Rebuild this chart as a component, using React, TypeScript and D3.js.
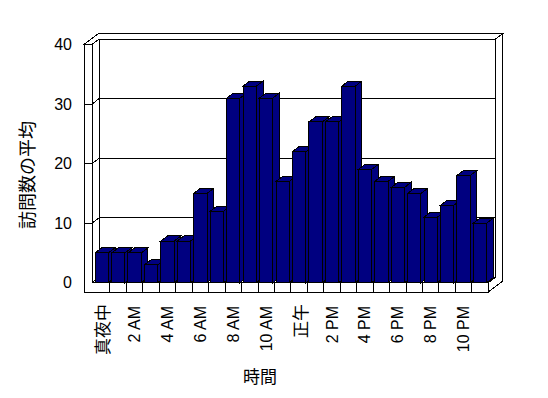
import React from "react";
import * as d3 from "d3";

const hours = [
  "真夜中", "1 AM", "2 AM", "3 AM", "4 AM", "5 AM", "6 AM", "7 AM", "8 AM", "9 AM", "10 AM", "11 AM",
  "正午", "1 PM", "2 PM", "3 PM", "4 PM", "5 PM", "6 PM", "7 PM", "8 PM", "9 PM", "10 PM", "11 PM",
];
const visits = [5, 5, 5, 3, 7, 7, 15, 12, 31, 33, 31, 17, 22, 27, 27, 33, 19, 17, 16, 15, 11, 13, 18, 10];
const yTicks = [0, 10, 20, 30, 40];
const xTickLabels = ["真夜中", "2 AM", "4 AM", "6 AM", "8 AM", "10 AM", "正午", "2 PM", "4 PM", "6 PM", "8 PM", "10 PM"];
const yTitle = "訪問数の平均";
const xTitle = "時間";

const W = 548;
const H = 398;
const DX = 7;
const DY = -5.3;
const BAR_Z = 0.95;
const xL = 84;
const xI = 92;
const xStart = 93.5;
const xR = 488.3;
const yF = 292;
const NAVY = "#000080";
const FONT = "'Liberation Sans', Arial, 'Noto Sans CJK JP', sans-serif";
const CJK = "'Noto Sans CJK JP', sans-serif";

const P = (x: number, y: number, z: number): [number, number] => [x + z * DX, y + z * DY];
const pts = (arr: [number, number][]) => arr.map((p) => p.join(",")).join(" ");

export default function App() {
  const x = d3
    .scaleBand<number>()
    .domain(d3.range(hours.length))
    .range([xStart, xR])
    .paddingInner(0.19)
    .paddingOuter(0.095);
  const y = d3.scaleLinear().domain([0, 40]).range([282.7, 44.5]);
  const yT = y(40);
  const yB = y(0);
  const step = x.step();
  const bw = x.bandwidth();
  const grid = yTicks.filter((v) => v > 0 && v < 40);
  const boundaries = d3.range(1, hours.length).map((k) => xStart + k * step);

  const common = { stroke: "#000", strokeWidth: 1, shapeRendering: "crispEdges" as const };

  return (
    <svg width={W} height={H} style={{ position: "absolute", left: 0, top: 0, background: "#fff" }}>
      <rect x={0} y={0} width={W} height={H} fill="#fff" />
      {/* back wall */}
      <polygon points={pts([P(xI, yT, 1), P(xR, yT, 1), P(xR, yB, 1), P(xI, yB, 1)])} fill="#fff" {...common} />
      {grid.map((v) => {
        const a = P(xI, y(v), 1);
        const b = P(xR, y(v), 1);
        return <line key={"bg" + v} x1={a[0]} y1={a[1]} x2={b[0]} y2={b[1]} {...common} />;
      })}
      {/* left wall inner face */}
      <polygon points={pts([P(xI, yT, 0), P(xI, yT, 1), P(xI, yB, 1), P(xI, yB, 0)])} fill="#fff" {...common} />
      {grid.map((v) => {
        const a = P(xI, y(v), 0);
        const b = P(xI, y(v), 1);
        return <line key={"lg" + v} x1={a[0]} y1={a[1]} x2={b[0]} y2={b[1]} {...common} />;
      })}
      {/* top of walls */}
      <polygon
        points={pts([P(xL, yT, 0), P(xL, yT, 2), P(xR, yT, 2), P(xR, yT, 1), P(xI, yT, 1), P(xI, yT, 0)])}
        fill="#fff"
        {...common}
      />
      {/* right side */}
      <polygon
        points={pts([P(xR, yT, 1), P(xR, yT, 2), P(xR, yF, 2), P(xR, yF, 0), P(xR, yB, 0), P(xR, yB, 1)])}
        fill="#fff"
        {...common}
      />
      {/* floor top */}
      <polygon points={pts([P(xI, yB, 0), P(xR, yB, 0), P(xR, yB, 1), P(xI, yB, 1)])} fill="#fff" {...common} />
      {/* left wall front + floor front */}
      <polygon
        points={pts([[xL, yT], [xI, yT], [xI, yB], [xR, yB], [xR, yF], [xL, yF]])}
        fill="#fff"
        {...common}
      />
      {grid.map((v) => (
        <line key={"ft" + v} x1={xL} y1={y(v)} x2={xI} y2={y(v)} {...common} />
      ))}
      {boundaries.map((bx, i) => (
        <line key={"cb" + i} x1={bx} y1={yB} x2={bx} y2={yF} {...common} />
      ))}
      {/* bars */}
      {visits.map((v, i) => {
        const x0 = x(i)!;
        const x1 = x0 + bw;
        const yt = y(v);
        const front: [number, number][] = [[x0, yt], [x1, yt], [x1, yB], [x0, yB]];
        const top = [P(x0, yt, 0), P(x1, yt, 0), P(x1, yt, BAR_Z), P(x0, yt, BAR_Z)];
        const side = [P(x1, yt, 0), P(x1, yt, BAR_Z), P(x1, yB, BAR_Z), P(x1, yB, 0)];
        return (
          <g key={"bar" + i}>
            <polygon points={pts(side)} fill={NAVY} {...common} />
            <polygon points={pts(top)} fill={NAVY} {...common} />
            <polygon points={pts(front)} fill={NAVY} {...common} />
          </g>
        );
      })}
      {/* y tick labels */}
      {yTicks.map((v) => (
        <text
          key={"yl" + v}
          x={72}
          y={y(v)}
          textAnchor="end"
          dominantBaseline="central"
          fontSize={16}
          fontFamily={FONT}
          fill="#000"
        >
          {v}
        </text>
      ))}
      {/* x tick labels */}
      {xTickLabels.map((lab, j) => {
        const i = j * 2;
        const cx = x(i)! + bw / 2;
        const isCJK = /[^\x00-\x7f]/.test(lab);
        return (
          <text
            key={"xl" + j}
            transform={`translate(${cx},${isCJK ? 304 : 306}) rotate(-90)`}
            textAnchor="end"
            dominantBaseline="central"
            fontSize={isCJK ? 17 : 16}
            fontFamily={isCJK ? CJK : FONT}
            fill="#000"
          >
            {lab}
          </text>
        );
      })}
      <text
        transform={`translate(26,175) rotate(-90)`}
        textAnchor="middle"
        dominantBaseline="central"
        fontSize={18}
        fontFamily={CJK}
        fill="#000"
      >
        {yTitle}
      </text>
      <text x={260} y={375} textAnchor="middle" dominantBaseline="central" fontSize={17} fontFamily={CJK} fill="#000">
        {xTitle}
      </text>
    </svg>
  );
}
